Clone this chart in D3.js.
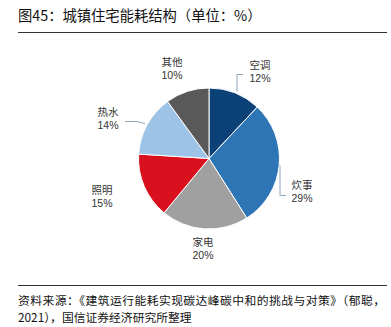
<!DOCTYPE html>
<html><head><meta charset="utf-8">
<script src="https://cdn.jsdelivr.net/npm/d3@7"></script>
<style>body{margin:0;background:#fff}svg{display:block}</style>
</head><body>
<svg id="c" width="391" height="327"></svg>
<script>
const categories = ["空调","炊事","家电","照明","热水","其他"];
const values = [12,29,20,15,14,10];
const colors = ["#0b4177","#2e75b6","#a0a0a0","#d9101e","#9dc3e6","#595959"];
const title = "图45：城镇住宅能耗结构（单位：%）";
const footer = ["资料来源：《建筑运行能耗实现碳达峰碳中和的挑战与对策》（郁聪，","2021），国信证券经济研究所整理"];

const svg = d3.select("#c");
const font = "'Noto Sans CJK SC','Noto Sans',sans-serif";
const numFont = "'Liberation Sans',Arial,sans-serif";
svg.append("text").attr("x",18).attr("y",21).attr("font-family",font).attr("font-size",14.3).attr("fill","#111").text(title);
svg.append("line").attr("x1",18).attr("x2",387).attr("y1",32.5).attr("y2",32.5).attr("stroke","#333").attr("stroke-width",1);
svg.append("line").attr("x1",18).attr("x2",387).attr("y1",285.5).attr("y2",285.5).attr("stroke","#333").attr("stroke-width",1);
footer.forEach((t,i)=>svg.append("text").attr("x",18).attr("y",304.5+i*17.5).attr("font-family",font).attr("font-size",11.8)
  .attr("textLength", i===0 ? 367 : null).attr("fill","#111").text(t));

const cx=209, cy=158.5, r=70.5;
const pie = d3.pie().sort(null).value(d=>d)(values);
const arc = d3.arc().innerRadius(0).outerRadius(r);
const g = svg.append("g").attr("transform",`translate(${cx},${cy})`);
g.selectAll("path").data(pie).join("path").attr("d",arc).attr("fill",(d,i)=>colors[i]).attr("stroke","#fff").attr("stroke-width",1);

// label positions (relative to center)
const labelPos = [[51,-90],[93,30],[-6,87],[-107,35],[-101,-43],[-37,-93]];
categories.forEach((c,i)=>{
  const [dx,dy]=labelPos[i];
  svg.append("text").attr("text-anchor","middle").attr("font-family",font).attr("font-size",10.5).attr("fill","#333")
    .attr("x",cx+dx).attr("y",cy+dy).text(c);
  svg.append("text").attr("text-anchor","middle").attr("font-family",numFont).attr("font-size",10.5).attr("fill","#333")
    .attr("x",cx+dx).attr("y",cy+dy+13.5).text(values[i]+"%");
});
// leader lines
const lead = [
  [[28,-67],[28,-84],[34,-84]],
  [[71,7],[71,37],[77,37]],
  [[-64,-35],[-72,-37],[-84,-37]]
];
lead.forEach(p=>svg.append("path").attr("d",d3.line()(p.map(([x,y])=>[cx+x,cy+y]))).attr("fill","none").attr("stroke","#8ea6bf").attr("stroke-width",1));
</script>
</body></html>
